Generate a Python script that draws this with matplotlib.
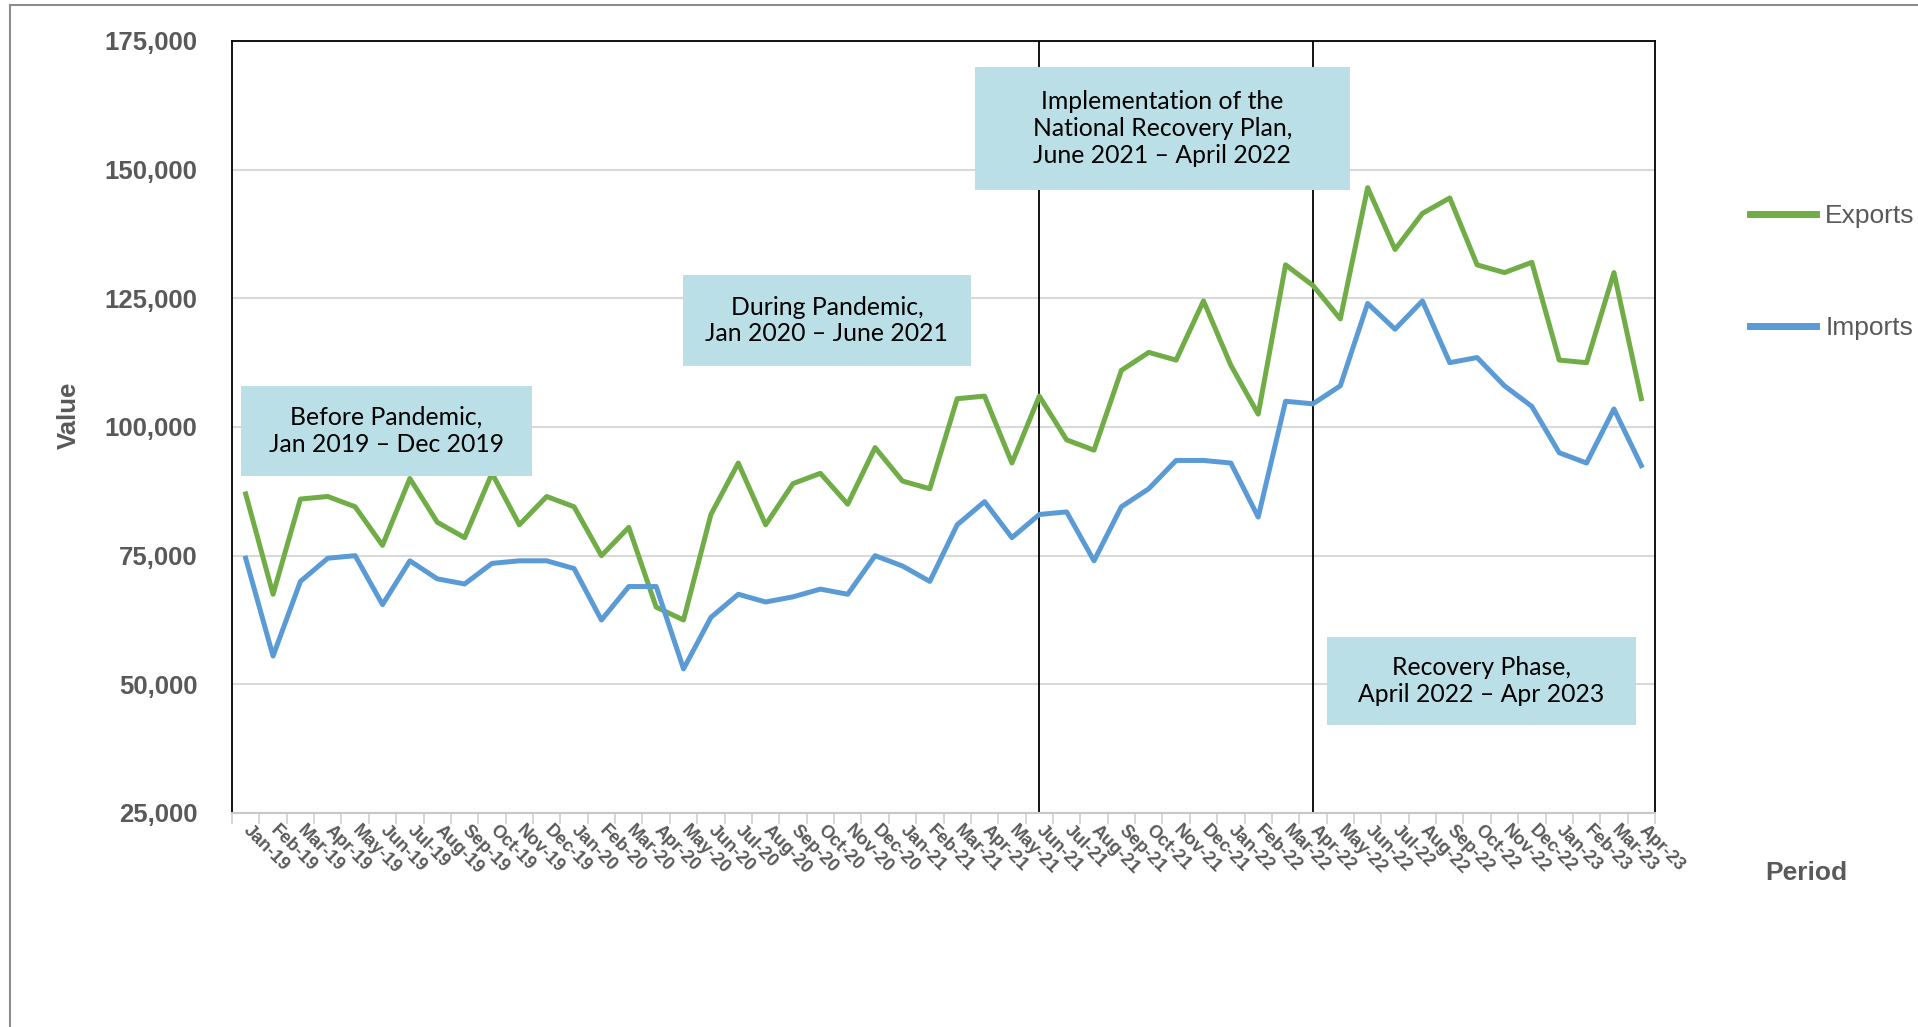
import matplotlib
matplotlib.use("Agg")
import matplotlib.pyplot as plt
import numpy as np
from matplotlib.patches import Rectangle
from matplotlib.ticker import FuncFormatter, FixedLocator

plt.rcParams['font.family'] = ['Liberation Sans', 'DejaVu Sans']

# monthly trade values
periods = ["Jan-19", "Feb-19", "Mar-19", "Apr-19", "May-19", "Jun-19", "Jul-19", "Aug-19",
           "Sep-19", "Oct-19", "Nov-19", "Dec-19", "Jan-20", "Feb-20", "Mar-20", "Apr-20",
           "May-20", "Jun-20", "Jul-20", "Aug-20", "Sep-20", "Oct-20", "Nov-20", "Dec-20",
           "Jan-21", "Feb-21", "Mar-21", "Apr-21", "May-21", "Jun-21", "Jul-21", "Aug-21",
           "Sep-21", "Oct-21", "Nov-21", "Dec-21", "Jan-22", "Feb-22", "Mar-22", "Apr-22",
           "May-22", "Jun-22", "Jul-22", "Aug-22", "Sep-22", "Oct-22", "Nov-22", "Dec-22",
           "Jan-23", "Feb-23", "Mar-23", "Apr-23"]

exports = [87000, 67500, 86000, 86500, 84500, 77000, 90000, 81500, 78500, 91000, 81000, 86500,
           84500, 75000, 80500, 65000, 62500, 83000, 93000, 81000, 89000, 91000, 85000, 96000,
           89500, 88000, 105500, 106000, 93000, 106000, 97500, 95500, 111000, 114500, 113000, 124500,
           112000, 102500, 131500, 127500, 121000, 146500, 134500, 141500, 144500, 131500, 130000, 132000,
           113000, 112500, 130000, 105500]

imports = [74500, 55500, 70000, 74500, 75000, 65500, 74000, 70500, 69500, 73500, 74000, 74000,
           72500, 62500, 69000, 69000, 53000, 63000, 67500, 66000, 67000, 68500, 67500, 75000,
           73000, 70000, 81000, 85500, 78500, 83000, 83500, 74000, 84500, 88000, 93500, 93500,
           93000, 82500, 105000, 104500, 108000, 124000, 119000, 124500, 112500, 113500, 108000, 104000,
           95000, 93000, 103500, 92500]

phase_lines = ["Jun-21", "Apr-22"]

# phase notes: text, x-range (category index), y-range (value)
notes = [
    ("Before Pandemic,\nJan 2019 \u2013 Dec 2019", (-0.17, 10.46), (90500, 108000)),
    ("During Pandemic,\nJan 2020 \u2013 June 2021", (15.98, 26.5), (111900, 129500)),
    ("Implementation of the\nNational Recovery Plan,\nJune 2021 \u2013 April 2022", (26.65, 40.35), (146000, 170000)),
    ("Recovery Phase,\nApril 2022 \u2013 Apr 2023", (39.5, 50.8), (42100, 59200)),
]

W, H = 1918, 1027
fig = plt.figure(figsize=(W / 100, H / 100), dpi=100)
fig.patch.set_facecolor('white')

# outer frame (only top and left edges fall inside the picture)
fig.patches.append(Rectangle((10 / W, -0.1), 1.2, 1.1 - 5 / H, transform=fig.transFigure,
                             fill=False, edgecolor='#8c8c8c', lw=1.5))

ax = fig.add_axes([232 / W, 1 - 813 / H, (1655 - 232) / W, (813 - 41) / H])
x = np.arange(len(periods))

ax.plot(x, exports, color='#70AD47', lw=3.6, label='Exports', zorder=3, solid_joinstyle='round')
ax.plot(x, imports, color='#5B9BD5', lw=3.6, label='Imports', zorder=3, solid_joinstyle='round')

for p in phase_lines:
    ax.axvline(periods.index(p), color='black', lw=1.3, zorder=2)

ax.set_xlim(-0.5, len(periods) - 0.5)
ax.set_ylim(25000, 175000)
ax.set_yticks(np.arange(25000, 175001, 25000))
ax.yaxis.set_major_formatter(FuncFormatter(lambda v, p: f'{v:,.0f}'))
ax.grid(axis='y', color='#d9d9d9', lw=1.5)
ax.set_axisbelow(True)

for s in ['left', 'top', 'right']:
    ax.spines[s].set_color('black')
    ax.spines[s].set_linewidth(1.3)
ax.spines['bottom'].set_color('#c8c8c8')
ax.spines['bottom'].set_linewidth(1.5)

ax.tick_params(axis='y', length=0, pad=25, labelsize=18.5, labelcolor='#595959')
for lbl in ax.get_yticklabels():
    lbl.set_fontweight('bold')

ax.set_xticks(x)
ax.set_xticklabels(periods, rotation=-45, ha='left', va='center', rotation_mode='anchor',
                   fontsize=13, fontweight='bold', color='#595959')
ax.tick_params(axis='x', length=0, pad=11)
ax.xaxis.set_minor_locator(FixedLocator(np.arange(len(periods) + 1) - 0.5))
ax.tick_params(axis='x', which='minor', length=8, color='#d0d0d0', width=1.2)

for text, (x0, x1), (y0, y1) in notes:
    ax.add_patch(Rectangle((x0, y0), x1 - x0, y1 - y0, facecolor='#BADFE6', edgecolor='none',
                           zorder=5, clip_on=False))
    ax.text((x0 + x1) / 2, (y0 + y1) / 2, text, ha='center', va='center', fontsize=17.8,
            family=['Lato', 'DejaVu Sans'], color='black', linespacing=1.2, zorder=6)

fig.text(69 / W, 1 - 415 / H, 'Value', rotation=90, ha='center', va='center',
         fontsize=18.5, fontweight='bold', color='#595959')
fig.text(1806 / W, 1 - 873 / H, 'Period', ha='center', va='center',
         fontsize=19, fontweight='bold', color='#595959')

leg = fig.legend(loc='upper left', bbox_to_anchor=(1750 / W, 1 - 204 / H), bbox_transform=fig.transFigure,
                 frameon=False, labelcolor='#595959', handlelength=2.5, handletextpad=0.35,
                 labelspacing=3.35, borderpad=0, borderaxespad=0,
                 prop={'family': ['Liberation Sans Narrow', 'Liberation Sans'], 'size': 19})
for line in leg.get_lines():
    line.set_linewidth(5)

fig.savefig('out.png', dpi=100)
plt.close(fig)
